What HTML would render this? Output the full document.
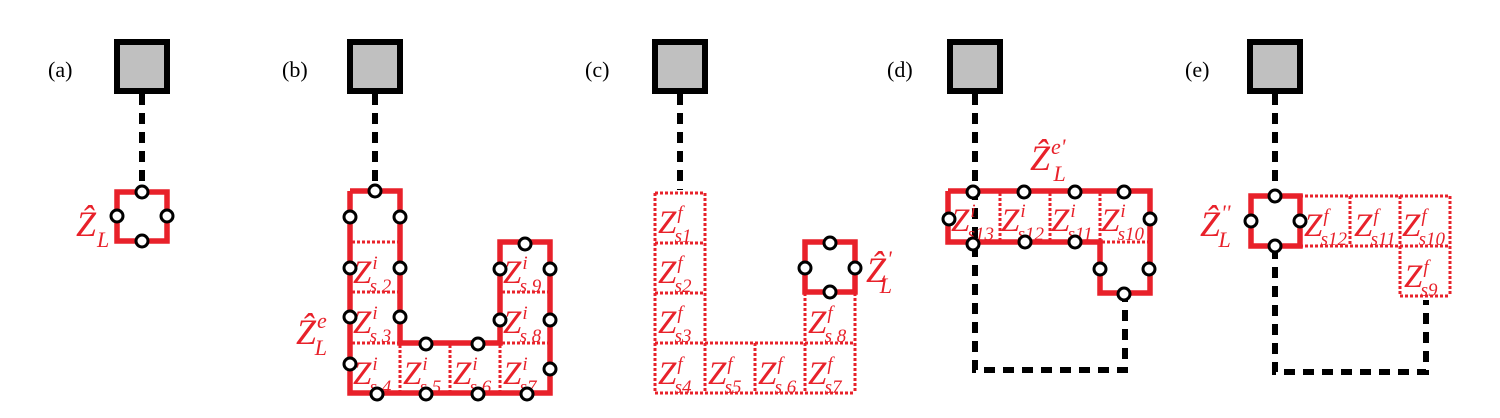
<!DOCTYPE html>
<html><head><meta charset="utf-8"><style>
html,body{margin:0;padding:0;background:#fff;}
svg{display:block;}
.lbl{font-family:"Liberation Serif",serif;font-size:22px;fill:#000;}
.z{font-family:"Liberation Serif",serif;font-style:italic;fill:#e8212a;}
</style></head><body>
<svg id="s" width="1500" height="418" viewBox="0 0 1500 418" xmlns="http://www.w3.org/2000/svg"></svg>
<script>
const NS="http://www.w3.org/2000/svg";
const svg=document.getElementById('s');
const RED="#e8212a";
const panelLabels=["(a)","(b)","(c)","(d)","(e)"];
const panelLabelX=[48,282,585,887,1185];
const boxCX=[142,375,680,975,1275];

function mk(tag,attrs,name){
  const e=document.createElementNS(NS,tag);
  for(const k in attrs) e.setAttribute(k,attrs[k]);
  
  
  svg.appendChild(e);return e;
}
function poly(pts,name){
  return mk('polyline',{points:pts.map(p=>p.join(',')).join(' '),fill:'none',stroke:RED,'stroke-width':5.5,'stroke-linejoin':'miter'},name);
}
function dline(pts,name){
  return mk('polyline',{points:pts.map(p=>p.join(',')).join(' '),fill:'none',stroke:'#000','stroke-width':6,'stroke-dasharray':'11,8'},name);
}
function dotl(x1,y1,x2,y2){
  return mk('line',{x1:x1,y1:y1,x2:x2,y2:y2,stroke:RED,'stroke-width':3,'stroke-dasharray':'3,2'},'cell-divider');
}
function dcells(list){
  const seen=new Set();
  list.forEach(c=>{
    const [x,y]=c;
    [[x,y,x+50,y],[x,y+50,x+50,y+50],[x,y,x,y+50],[x+50,y,x+50,y+50]].forEach(e=>{
      const k=e.join(',');
      if(!seen.has(k)){seen.add(k);dotl(...e);}
    });
  });
}
function circ(x,y){
  return mk('circle',{cx:x,cy:y,r:6,fill:'#fff',stroke:'#000','stroke-width':3},'port-circle');
}
function zlab(x,y,sup,sub,name){
  const t=mk('text',{x:x,y:y,class:'z','font-size':33},name);
  t.innerHTML='Z<tspan font-size="19" dy="-14" dx="1">'+sup+'</tspan><tspan font-size="19" dy="23" dx="-8">'+sub+'</tspan>';
  return t;
}
function hatlab(x,y,sup,name){
  const t=mk('text',{x:x,y:y,class:'z','font-size':36},name);
  if(sup) t.innerHTML='Ẑ<tspan font-size="22" dy="-16" dx="1">'+sup+'</tspan><tspan font-size="22" dy="27" dx="-12">L</tspan>';
  else t.innerHTML='Ẑ<tspan font-size="22" dy="11" dx="1">L</tspan>';
  return t;
}

for(let i=0;i<5;i++){
  mk('text',{x:panelLabelX[i],y:77,class:'lbl'},'panel-label-'+'abcde'[i]).textContent=panelLabels[i];
  mk('rect',{x:boxCX[i]-25,y:42,width:50,height:49,fill:'#c0c0c0',stroke:'#000','stroke-width':6},'node-box-'+'abcde'[i]);
}

// (a)
dline([[142,94],[142,190]],'link-a');
mk('rect',{x:117,y:192,width:50,height:49,fill:'none',stroke:RED,'stroke-width':5.5},'zone-a');
[[142,192],[117,216],[167,216],[142,241]].forEach(p=>circ(...p));
hatlab(76,236,'','zone-label-a');

// (b)
dline([[375,94],[375,190]],'link-b');
[[352,242,398,242],[352,292,398,292],[352,343,398,343],[502,292,548,292],[502,343,548,343],[400,345,400,391],[450,345,450,391],[500,345,500,391]].forEach(l=>dotl(...l));
const bCells=[[353,283,'s 2'],[353,333,'s 3'],[353,384,'s 4'],[403,384,'s 5'],[453,384,'s 6'],[503,384,'s7'],[503,333,'s 8'],[503,283,'s 9']];
bCells.forEach(c=>zlab(c[0],c[1],'i',c[2],'cell-label'));
poly([[350,191],[400,191],[400,343],[500,343],[500,242],[550,242],[550,393],[350,393],[350,191]],'zone-b');
[[375,191],[350,217],[400,217],[350,268],[400,268],[350,317],[400,317],[350,364],[377,394],[426,394],[478,394],[527,394],[426,344],[478,344],[525,244],[500,269],[550,269],[500,320],[550,320],[550,369]].forEach(p=>circ(...p));
hatlab(296,344,'e','zone-label-b');

// (c)
dline([[680,94],[680,190]],'link-c');
dcells([[655,193],[655,243],[655,293],[655,343],[705,343],[755,343],[805,343],[805,293]]);
const cCells=[[658,233,'s1'],[658,283,'s2'],[658,333,'s3'],[658,384,'s4'],[708,384,'s5'],[758,384,'s 6'],[808,384,'s7'],[808,333,'s 8']];
cCells.forEach(c=>zlab(c[0],c[1],'f',c[2],'cell-label'));
mk('rect',{x:805,y:242,width:50,height:50,fill:'none',stroke:RED,'stroke-width':5.5},'zone-c');
[[830,243],[805,268],[855,268],[830,292]].forEach(p=>circ(...p));
hatlab(866,282,"'",'zone-label-c');

// (d)
dline([[975,94],[975,370],[1125,370],[1125,295]],'link-d');
[[1000,193,1000,240],[1050,193,1050,240],[1100,193,1100,240],[1102,242,1148,242]].forEach(l=>dotl(...l));
const dCells=[[951,231,'s13'],[1001,231,'s12'],[1051,231,'s11'],[1101,231,'s10']];
dCells.forEach(c=>zlab(c[0],c[1],'i',c[2],'cell-label'));
poly([[948,191],[1150,191],[1150,293],[1100,293],[1100,242],[948,242],[948,191]],'zone-d');
[[973,192],[1024,192],[1075,192],[1124,192],[949,219],[1150,219],[973,244],[1025,242],[1075,242],[1100,269],[1149,269],[1124,294]].forEach(p=>circ(...p));
hatlab(1030,170,"e'",'zone-label-d');

// (e)
dline([[1275,94],[1275,190]],'link-e-top');
dline([[1275,248],[1275,372],[1426,372],[1426,300]],'link-e');
dcells([[1300,196],[1350,196],[1400,196],[1400,246]]);
const eCells=[[1304,236,'s12'],[1354,236,'s11'],[1402,236,'s10'],[1404,287,'s9']];
eCells.forEach(c=>zlab(c[0],c[1],'f',c[2],'cell-label'));
mk('rect',{x:1251,y:196,width:49,height:50,fill:'none',stroke:RED,'stroke-width':5.5},'zone-e');
[[1275,196],[1251,221],[1300,221],[1275,246]].forEach(p=>circ(...p));
hatlab(1200,236,"''",'zone-label-e');
</script>
</body></html>
